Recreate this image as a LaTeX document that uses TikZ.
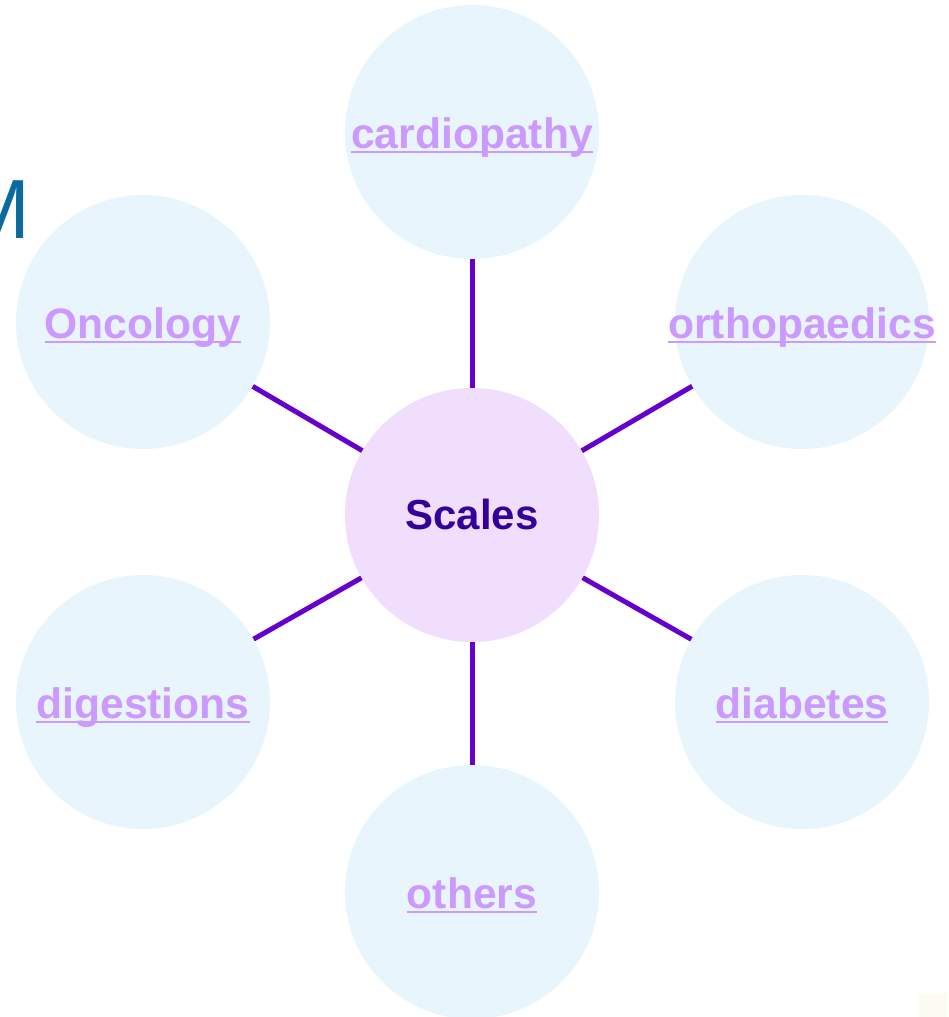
\documentclass[tikz,border=0pt]{standalone}
\usepackage{fontspec}
\setmainfont{Liberation Sans}
\definecolor{satfill}{HTML}{E8F5FD}
\definecolor{cenfill}{HTML}{F0DEFC}
\definecolor{linkcol}{HTML}{CC99FF}
\definecolor{cencol}{HTML}{330099}
\definecolor{edgecol}{HTML}{6600CC}
\definecolor{mcol}{HTML}{0B6A9E}
\definecolor{faint}{HTML}{FCFCF2}
\newcommand\myunderline[1]{\setbox0\hbox{#1}\rlap{\rule[-5pt]{\wd0}{2pt}}\box0}
\tikzset{
  sat/.style={circle, fill=satfill, minimum size=254pt, inner sep=0pt},
  cen/.style={circle, fill=cenfill, minimum size=254pt, inner sep=0pt},
  lbl/.style={anchor=base, inner sep=0pt, text=linkcol, font=\fontsize{42.6}{50}\selectfont\bfseries},
  clbl/.style={anchor=base, inner sep=0pt, text=cencol, font=\fontsize{42}{50}\selectfont\bfseries},
  spoke/.style={draw=edgecol, line width=5pt}
}
\begin{document}
\begin{tikzpicture}[x=1pt,y=-1pt]
\useasboundingbox (0,0) rectangle (948,1017);
\begin{scope}
\clip (0,0) rectangle (948,1017);
\node[anchor=base east, inner sep=0pt, text=mcol, font=\fontsize{84}{90}\selectfont] (m) at (31,238) {M};
\end{scope}
\fill[faint] (918,993) rectangle (948,1017);
\node[cen] (c) at (472,515) {};
\node[sat] (s1) at (472,132) {};
\node[sat] (s2) at (802,322) {};
\node[sat] (s3) at (802,702) {};
\node[sat] (s4) at (472,892) {};
\node[sat] (s5) at (143,702) {};
\node[sat] (s6) at (143,322) {};
\foreach \s in {s1,s2,s3,s4,s5,s6} \draw[spoke] (c) -- (\s);
\node[clbl] (tc) at (472,529) {Scales};
\node[lbl] (t1) at (472,148) {\myunderline{cardiopathy}};
\node[lbl] (t2) at (802,338) {\myunderline{orthopaedics}};
\node[lbl] (t3) at (802,718) {\myunderline{diabetes}};
\node[lbl] (t4) at (472,908) {\myunderline{others}};
\node[lbl] (t5) at (143,718) {\myunderline{digestions}};
\node[lbl] (t6) at (143,338) {\myunderline{Oncology}};
\end{tikzpicture}
\end{document}
